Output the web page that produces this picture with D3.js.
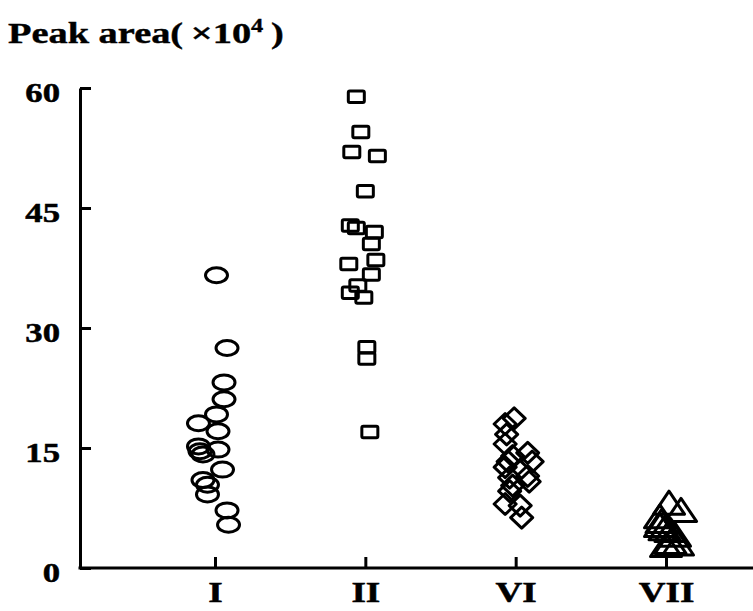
<!DOCTYPE html>
<html>
<head>
<meta charset="utf-8">
<script src="https://cdn.jsdelivr.net/npm/d3@7"></script>
<style>
  html, body { margin: 0; padding: 0; background: #fff; }
  #chart { width: 753px; height: 611px; }
</style>
</head>
<body>
<div id="chart"></div>
<script>
// categories on the x axis and y tick values
const categories = ['I', 'II', 'VI', 'VII'];
const yTicks = [0, 15, 30, 45, 60];

// each point: [horizontal jitter in category units, peak area (x10^4)]
const groupI = [
	[0.01, 36.6], [0.08, 27.5], [0.06, 23.2], [0.06, 21.1], [0.01, 19.2],
	[-0.11, 18.1], [0.02, 17.1], [-0.11, 15.2], [-0.10, 14.6], [-0.08, 14.2],
	[0.02, 14.8], [0.05, 12.3], [-0.08, 11.0], [-0.05, 10.4], [-0.05, 9.2],
	[0.08, 7.2], [0.09, 5.4]
];
const groupII = [
	[-0.06, 58.9], [-0.03, 54.5], [-0.09, 52.0], [0.08, 51.5], [0.0, 47.1],
	[-0.10, 42.8], [-0.06, 42.5], [0.06, 42.0], [0.04, 40.5], [0.07, 38.5],
	[-0.11, 38.0], [0.04, 36.7], [-0.05, 35.3], [-0.10, 34.4], [-0.01, 33.8],
	[0.01, 27.6], [0.01, 26.2], [0.03, 17.0]
];
const groupVI = [
	[-0.01, 18.7], [-0.07, 18.0], [-0.06, 16.7], [-0.07, 15.5], [0.08, 14.4],
	[-0.02, 14.0], [0.11, 13.3], [-0.05, 13.3], [-0.07, 12.6], [0.08, 11.5],
	[-0.04, 11.3], [0.09, 10.8], [-0.02, 10.3], [-0.04, 9.6], [-0.07, 8.0],
	[0.03, 7.8], [0.04, 6.3]
];
const groupVII = [
	[0.02, 8.1], [0.10, 7.2], [-0.04, 6.4], [-0.03, 5.8], [-0.04, 5.3],
	[-0.01, 4.9], [0.03, 4.7], [0.06, 4.1], [0.03, 3.2], [0.08, 3.0], [0.0, 2.8]
];

const W = 753, H = 611;
const FONT = '"Liberation Serif", "Times New Roman", serif';
const STRETCH = 1.28; // the original figure is widened horizontally
const SW = 3;

const svg = d3.select('#chart').append('svg')
	.attr('width', W).attr('height', H)
	.style('background', '#fff');

const y = d3.scaleLinear().domain([0, 60]).range([568, 88]);
const x = d3.scaleLinear().domain([0, categories.length - 1]).range([215, 666]);

// y axis
const yAxisG = svg.append('g')
	.attr('transform', 'translate(80,0)')
	.call(d3.axisLeft(y).tickValues(yTicks).tickSize(-11).tickSizeOuter(0).tickFormat(d3.format('d')));
yAxisG.attr('font-family', FONT).attr('font-size', 28).attr('font-weight', 'bold');
yAxisG.selectAll('path, line').attr('stroke', '#000').attr('stroke-width', 3);
yAxisG.selectAll('text')
	.attr('x', null).attr('dy', null)
	.attr('fill', '#000')
	.attr('stroke', '#000').attr('stroke-width', 0.5)
	.attr('text-anchor', 'end')
	.attr('transform', `translate(-20,13) scale(1.24,1)`);

// x axis
const xAxisG = svg.append('g')
	.attr('transform', `translate(0,${y(0)})`)
	.call(d3.axisBottom(x).tickValues(d3.range(categories.length)).tickSize(-11).tickSizeOuter(0).tickFormat(i => categories[i]));
xAxisG.select('.domain').remove();
xAxisG.append('line')
	.attr('x1', 78.5).attr('x2', W)
	.attr('stroke', '#000').attr('stroke-width', 3);
xAxisG.attr('font-family', FONT).attr('font-size', 29).attr('font-weight', 'bold');
xAxisG.selectAll('.tick line').attr('stroke', '#000').attr('stroke-width', 3);
xAxisG.selectAll('text')
	.attr('y', null).attr('dy', null)
	.attr('fill', '#000')
	.attr('stroke', '#000').attr('stroke-width', 0.5)
	.attr('text-anchor', 'middle')
	.attr('transform', `translate(0,34) scale(${STRETCH},1)`);

// title
const title = svg.append('text')
	.attr('transform', `translate(8,43) scale(${STRETCH},1)`)
	.attr('font-family', FONT).attr('font-size', 30).attr('font-weight', 'bold')
	.attr('fill', '#000').attr('stroke', '#000').attr('stroke-width', 0.4);
title.append('tspan').text('Peak area(\u2009×10');
title.append('tspan').attr('dy', -11).attr('font-size', 19).text('4');
title.append('tspan').attr('dy', 11).text('\u2009)');

const marks = svg.append('g')
	.attr('fill', 'none').attr('stroke', '#000')
	.attr('stroke-width', SW).attr('stroke-linejoin', 'round');

// I: open ellipses
marks.selectAll('ellipse').data(groupI).join('ellipse')
	.attr('cx', d => x(0 + d[0]))
	.attr('cy', d => y(d[1]))
	.attr('rx', 11).attr('ry', 7.5);

// II: open squares
marks.selectAll('rect').data(groupII).join('rect')
	.attr('x', d => x(1 + d[0]) - 8)
	.attr('y', d => y(d[1]) - 5.75)
	.attr('width', 16).attr('height', 11.5)
	.attr('rx', 1.5);

// VI: open diamonds
marks.selectAll('path.diamond').data(groupVI).join('path')
	.attr('class', 'diamond')
	.attr('d', 'M0,-10.5L11,0L0,10.5L-11,0Z')
	.attr('transform', d => `translate(${x(2 + d[0])},${y(d[1])})`);

// VII: open triangles
marks.selectAll('path.tri').data(groupVII).join('path')
	.attr('class', 'tri')
	.attr('d', 'M0,-12L15.5,11L-15.5,11Z')
	.attr('transform', d => `translate(${x(3 + d[0])},${y(d[1])})`);
</script>
</body>
</html>
